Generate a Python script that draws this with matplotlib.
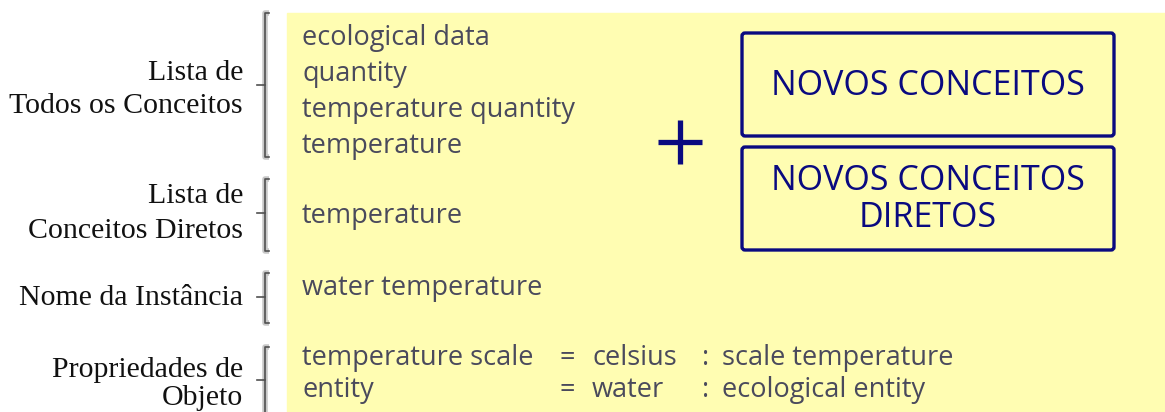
#%% Import modules
import matplotlib.pyplot as plt
from matplotlib.patches import Rectangle, FancyBboxPatch

#%% Content
section_labels = ["Lista de\nTodos os Conceitos", "Lista de\nConceitos Diretos",
                  "Nome da Instância", "Propriedades de\nObjeto"]
all_concepts = ["ecological data", "quantity", "temperature quantity", "temperature"]
direct_concepts = ["temperature"]
instance_name = ["water temperature"]
prop_names = ["temperature scale", "entity"]
prop_values = ["celsius", "water"]
prop_types = ["scale temperature", "ecological entity"]
box_texts = ["NOVOS CONCEITOS", "NOVOS CONCEITOS\nDIRETOS"]

#%% Layout (pixels, y grows down)
W, H = 1165, 412
yellow = "#FFFDB2"
txt_col = "#4A4A5C"
navy = "#0A0A80"
brackets = [(13, 157, 85), (179, 251, 213), (273, 323, 297), (347, 430, 380)]
label_base = [(80, 113), (203, 238), (305,), (377, 405)]
concept_base = [45, 81, 117, 153]
direct_base = 223
inst_base = 295
prop_base = [365, 397]
boxes = [(742, 33, 1114, 136), (742, 147, 1114, 250)]

fig = plt.figure(figsize=(W / 100, H / 100), dpi=100)
ax = fig.add_axes([0, 0, 1, 1])
ax.set_xlim(0, W)
ax.set_ylim(H, 0)
ax.axis("off")

ax.add_patch(Rectangle((287, 13), W - 287, H - 13, color=yellow, zorder=0))

# brackets on the left
for top, bot, mid in brackets:
    ax.plot([269, 265, 265, 269], [top, top, bot, bot], color="#C8C8C8", lw=4, zorder=1,
            solid_capstyle="butt")
    ax.plot([269, 265, 265, 269], [top, top, bot, bot], color="#505050", lw=1.2, zorder=2)
    ax.plot([257, 265], [mid, mid], color="#505050", lw=1.2, zorder=2)

serif = dict(family="Liberation Serif", fontsize=21.5, color="#111111", ha="right", va="baseline")
for lab, bases in zip(section_labels, label_base):
    for line, yb in zip(lab.split("\n"), bases):
        ax.text(243, yb, line, **serif)

sans = dict(family="Open Sans", fontsize=19.5, color=txt_col, va="baseline")
for t, yb in zip(all_concepts, concept_base):
    ax.text(302, yb, t, **sans)
ax.text(302, direct_base, direct_concepts[0], **sans)
ax.text(302, inst_base, instance_name[0], **sans)
for n, v, tp, yb in zip(prop_names, prop_values, prop_types, prop_base):
    ax.text(302, yb, n, **sans)
    ax.text(567, yb, "=", ha="center", **sans)
    ax.text(592, yb, v, **sans)
    ax.text(706, yb, ":", ha="center", **sans)
    ax.text(722, yb, tp, **sans)

# plus sign
ax.plot([658, 702], [142, 142], color=navy, lw=3.8, solid_capstyle="butt")
ax.plot([680, 680], [120, 164], color=navy, lw=3.8, solid_capstyle="butt")

# boxes
for (x0, y0, x1, y1), t in zip(boxes, box_texts):
    ax.add_patch(FancyBboxPatch((x0, y0), x1 - x0, y1 - y0, boxstyle="round,pad=0,rounding_size=3",
                                fc="none", ec=navy, lw=2.4))
    ax.text((x0 + x1) / 2, (y0 + y1) / 2 + 1, t, family="Open Sans", fontsize=24.5, color=navy,
            ha="center", va="center", linespacing=1.12)

fig.savefig("out.png", dpi=100)
